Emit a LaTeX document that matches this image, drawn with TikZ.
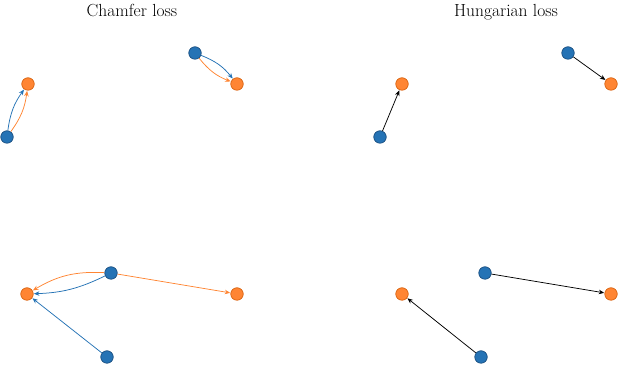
\documentclass[tikz,border=0pt]{standalone}
\usetikzlibrary{arrows.meta}
\definecolor{tblue}{HTML}{2573B5}
\definecolor{tblueedge}{HTML}{1B4F80}
\definecolor{torange}{HTML}{FF8533}
\definecolor{torangeedge}{HTML}{D9620F}
\tikzset{
  pred/.style={circle, fill=tblue, draw=tblueedge, line width=0.7pt, minimum size=12.5pt, inner sep=0pt},
  targ/.style={circle, fill=torange, draw=torangeedge, line width=0.7pt, minimum size=12.5pt, inner sep=0pt},
  conn/.style={line width=0.75pt, -{Stealth[length=5.5pt,width=4.5pt]}, shorten >=0.3pt},
  bconn/.style={conn, draw=tblue},
  oconn/.style={conn, draw=torange},
  kconn/.style={conn, draw=black},
  ttl/.style={font=\fontsize{17.5}{20}\selectfont, anchor=base, inner sep=0pt}
}
\begin{document}
\begin{tikzpicture}[x=1pt,y=1pt]
\useasboundingbox (0,0) rectangle (640,387);
% titles
\node[ttl] (t1) at (132,370) {Chamfer loss};
\node[ttl] (t2) at (506,370) {Hungarian loss};
% left panel
\node[pred] (bA) at (7,250) {};
\node[targ] (oA) at (28,303) {};
\node[pred] (bB) at (195,334) {};
\node[targ] (oB) at (237,303) {};
\node[pred] (bC) at (111,114) {};
\node[targ] (oC) at (27,93) {};
\node[targ] (oD) at (237,93) {};
\node[pred] (bD) at (107,30) {};
\draw[bconn] (bA) to[bend left=14] (oA);
\draw[oconn] (bA) to[bend right=14] (oA);
\draw[bconn] (bB) to[bend left=15] (oB);
\draw[oconn] (bB) to[bend right=15] (oB);
\draw[oconn] (bC) to[bend right=17] (oC);
\draw[bconn] (bC) to[bend left=12] (oC);
\draw[oconn] (bC) -- (oD);
\draw[bconn] (bD) -- (oC);
% right panel
\node[pred] (b1) at (380,250) {};
\node[targ] (o1) at (402,303) {};
\node[pred] (b2) at (568,334) {};
\node[targ] (o2) at (611,303) {};
\node[pred] (b3) at (485,114) {};
\node[targ] (o3) at (402,93) {};
\node[targ] (o4) at (611,93) {};
\node[pred] (b4) at (481,30) {};
\draw[kconn] (b1) -- (o1);
\draw[kconn] (b2) -- (o2);
\draw[kconn] (b3) -- (o4);
\draw[kconn] (b4) -- (o3);
\end{tikzpicture}
\end{document}
